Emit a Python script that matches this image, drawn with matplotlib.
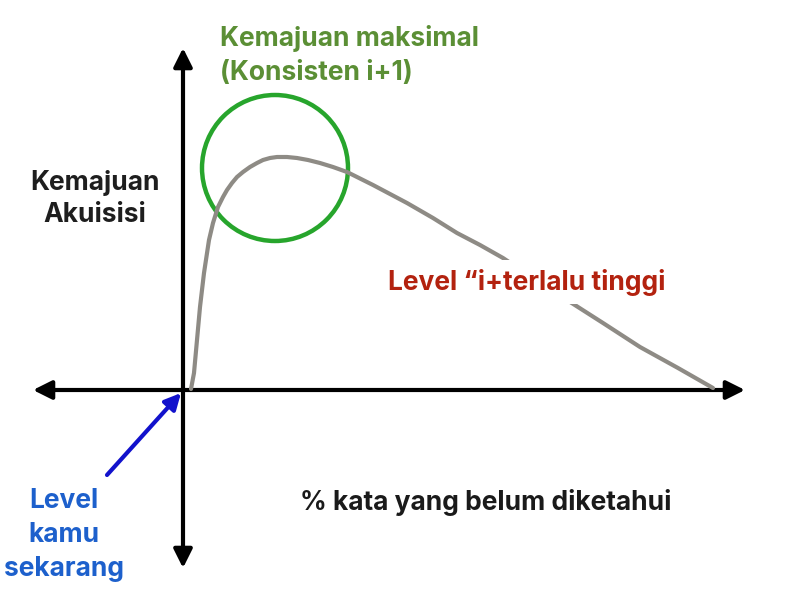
import matplotlib
matplotlib.use('Agg')
import matplotlib.pyplot as plt
from matplotlib.patches import Circle, FancyArrowPatch

# Kurva kemajuan (x: % kata belum diketahui, y: kemajuan akuisisi), titik asal di perpotongan sumbu
curve_x = [8, 11, 14, 17, 21, 26, 30, 35, 40, 44, 49, 54, 60, 67, 74, 80, 87, 94, 104, 114, 125,
           137, 150, 164, 190, 224, 250, 274, 297, 320, 350, 384, 420, 457, 495, 530]
curve_y = [1, 17, 50, 83, 117, 150, 167, 183, 193, 200, 207, 213, 218, 223, 227, 230, 232, 233, 233, 232, 230,
           227, 223, 218, 205, 187, 172, 157, 145, 132, 112, 90, 67, 43, 22, 2]

peak_center = (92, 222)
peak_radius = 73

title_peak = 'Kemajuan maksimal\n(Konsisten i+1)'
label_y = 'Kemajuan\nAkuisisi'
label_x = '% kata yang belum diketahui'
label_high = 'Level \u201ci+terlalu tinggi'
label_now = 'Level\nkamu\nsekarang'

plt.rcParams['font.family'] = ['Inter', 'DejaVu Sans']

fig = plt.figure(figsize=(8, 6), dpi=100)
ax = fig.add_axes([0, 0, 1, 1])
ax.set_xlim(-183, 617)
ax.set_ylim(-210, 390)
ax.set_aspect('equal')
ax.axis('off')

# Sumbu dengan panah di kedua ujung
ax.add_patch(FancyArrowPatch((-150, 0), (562, 0), arrowstyle='<|-|>', mutation_scale=28,
                             lw=3, color='black', shrinkA=0, shrinkB=0))
ax.add_patch(FancyArrowPatch((0, -178), (0, 342), arrowstyle='<|-|>', mutation_scale=28,
                             lw=3, color='black', shrinkA=0, shrinkB=0))

# Kurva
ax.plot(curve_x, curve_y, color='#8e8b85', lw=3, solid_capstyle='round', solid_joinstyle='round')

# Lingkaran puncak
ax.add_patch(Circle(peak_center, peak_radius, fill=False, color='#27a52c', lw=3.2))

# Teks
ax.text(37, 335, title_peak, color='#5b8f35', fontsize=19, fontweight='bold',
        ha='left', va='center', linespacing=1.4)
ax.text(-88, 191, label_y, color='#1e1e1e', fontsize=19, fontweight='bold',
        ha='center', va='center', linespacing=1.35)
ax.text(205, 108, label_high, color='#b3220f', fontsize=19, fontweight='bold',
        ha='left', va='center',
        bbox=dict(facecolor='white', edgecolor='none', pad=6))
ax.text(117, -113, label_x, color='#1a1a1a', fontsize=19, fontweight='bold',
        ha='left', va='center')
ax.text(-119, -145, label_now, color='#1d60cc', fontsize=19, fontweight='bold',
        ha='center', va='center', linespacing=1.4)

# Panah biru ke titik asal
ax.add_patch(FancyArrowPatch((-76, -85), (-2, -3), arrowstyle='-|>', mutation_scale=24,
                             lw=3, color='#1212cc', shrinkA=0, shrinkB=0))

fig.savefig('out.png', dpi=100)
